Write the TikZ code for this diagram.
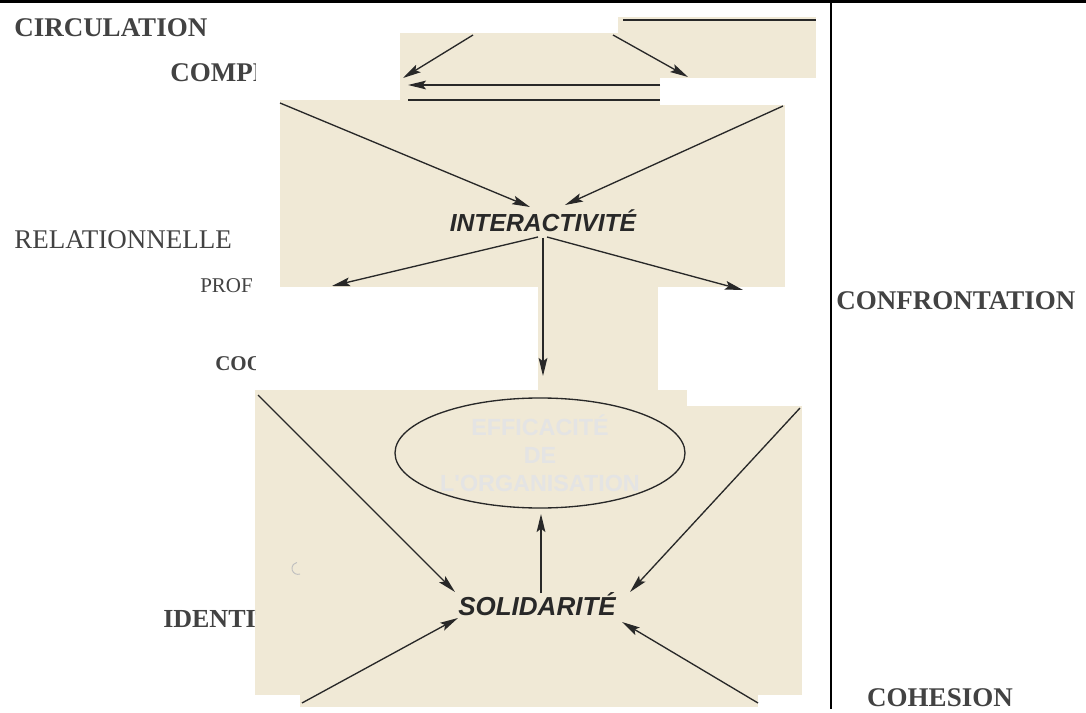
\documentclass[tikz,border=0pt]{standalone}
\usepackage{fontspec}
\setmainfont{Liberation Serif}
\newfontfamily\hsans{Liberation Sans}
\usetikzlibrary{arrows.meta,shapes.geometric,calc}
\definecolor{paper}{RGB}{240,233,214}
\definecolor{ink}{RGB}{40,40,40}
\definecolor{lab}{RGB}{66,66,66}
\definecolor{ghost}{RGB}{228,228,228}
\begin{document}
\begin{tikzpicture}[x=0.75pt,y=-0.75pt,
  arr/.style={draw=ink, line width=1pt, -{Stealth[length=13.5pt,width=6.5pt,inset=2.5pt]}},
  ln/.style={draw=ink, line width=1pt},
  blab/.style={font=\bfseries\fontsize{20.25}{24}\selectfont, text=lab, anchor=base west, inner sep=0pt},
  rlab/.style={font=\fontsize{20.25}{24}\selectfont, text=lab, anchor=base west, inner sep=0pt},
  kw/.style={font=\hsans\bfseries\itshape\fontsize{18.5}{22}\selectfont, text=ink, anchor=base, inner sep=1.5pt},
  oval/.style={draw=ink, line width=1pt, ellipse, minimum width=217.5pt, minimum height=82.5pt, inner sep=0pt,
    align=center, text=ghost, font=\hsans\bfseries\fontsize{17.5}{21}\selectfont}
]
\path[use as bounding box, fill=white] (0,0) rectangle (1086,713);
% scanned paper patches
\fill[paper] (400,33) rectangle (662,105);
\fill[paper] (618,17) rectangle (816,78);
\fill[paper] (280,100) rectangle (785,287);
\fill[white] (660,78) rectangle (787,105);
\fill[paper] (538,285) rectangle (658,392);
\fill[paper] (255,390) rectangle (802,707);
\fill[white] (687,388) rectangle (803,406);
\fill[white] (255,695) rectangle (300,708);
\fill[white] (758,695) rectangle (803,708);
\draw[gray!50, line width=0.7pt] (300,574) arc (70:260:6);
% frame lines
\draw[black, line width=2.2pt] (0,1.5) -- (1086,1.5);
\draw[black, line width=1.5pt] (831,3) -- (831,709);
% labels
\node[blab] (circ) at (14,37) {CIRCULATION};
\begin{scope}
\clip (0,40) rectangle (255,100);
\node[blab] (comp) at (170,82) {COMPR};
\end{scope}
\node[rlab] (rel) at (14,248) {RELATIONNELLE};
\begin{scope}
\clip (0,260) rectangle (255,300);
\node[rlab, font=\fontsize{15.75}{18}\selectfont] (prof) at (200,292) {PROF};
\end{scope}
\begin{scope}
\clip (0,340) rectangle (255,380);
\node[blab, font=\bfseries\fontsize{15.75}{18}\selectfont] (coo) at (215,370) {COO};
\end{scope}
\begin{scope}
\clip (0,590) rectangle (255,640);
\node[blab, font=\bfseries\fontsize{19.5}{22}\selectfont] (ident) at (163,627) {IDENTIT};
\end{scope}
\node[blab] (conf) at (836,310) {CONFRONTATION};
\node[blab, anchor=base] (coh) at (940,706) {COHESION};
% top fragment
\coordinate (t1a) at (473,35); \coordinate (t1b) at (403,78);
\coordinate (t2a) at (613,35); \coordinate (t2b) at (688,77);
\coordinate (t3a) at (660,85); \coordinate (t3b) at (408,85);
\coordinate (t4a) at (408,100); \coordinate (t4b) at (660,100);
\coordinate (t5a) at (623,20); \coordinate (t5b) at (816,20);
\draw[arr] (t1a) -- (t1b);
\draw[arr] (t2a) -- (t2b);
\draw[arr] (t3a) -- (t3b);
\draw[ln] (t4a) -- (t4b);
\draw[ln] (t5a) -- (t5b);
% main nodes
\node[kw] (inter) at (543,232) {INTERACTIVITÉ};
\node[kw, font=\hsans\bfseries\itshape\fontsize{19.5}{22}\selectfont] (sol) at (537,615) {SOLIDARITÉ};
\node[oval] (eff) at (540,453) {EFFICACITÉ\\DE\\L'ORGANISATION};
% arrows into interactivite
\coordinate (iul) at (280,103);
\coordinate (iur) at (783,106);
\coordinate (ill) at (332,286);
\coordinate (ilr) at (743,290);
\coordinate (iS) at ($(inter.base)+(0,6)$);
\draw[arr] (iul) -- ($(inter.base)+(-13,-25)$);
\draw[arr] (iur) -- ($(inter.base)+(22,-27)$);
\draw[arr] ($(inter.base)+(-5,5)$) -- (ill);
\draw[arr] ($(inter.base)+(4,5)$) -- (ilr);
\draw[arr, line width=1.3pt, shorten >=16pt] (iS) -- (iS |- eff.north);
% arrows into solidarite
\coordinate (sul) at (258,395);
\coordinate (sur) at (800,408);
\coordinate (sll) at (302,703);
\coordinate (slr) at (758,703);
\coordinate (sN) at ($(sol.base)+(4,-22)$);
\draw[arr] (sul) -- ($(sol.base)+(-82,-23)$);
\draw[arr] (sur) -- ($(sol.base)+(93,-23)$);
\draw[arr] (sll) -- ($(sol.base)+(-79,3)$);
\draw[arr] (slr) -- ($(sol.base)+(85,7)$);
\draw[arr, line width=1.3pt, shorten >=4pt] (sN) -- (sN |- eff.south);
\end{tikzpicture}
\end{document}
